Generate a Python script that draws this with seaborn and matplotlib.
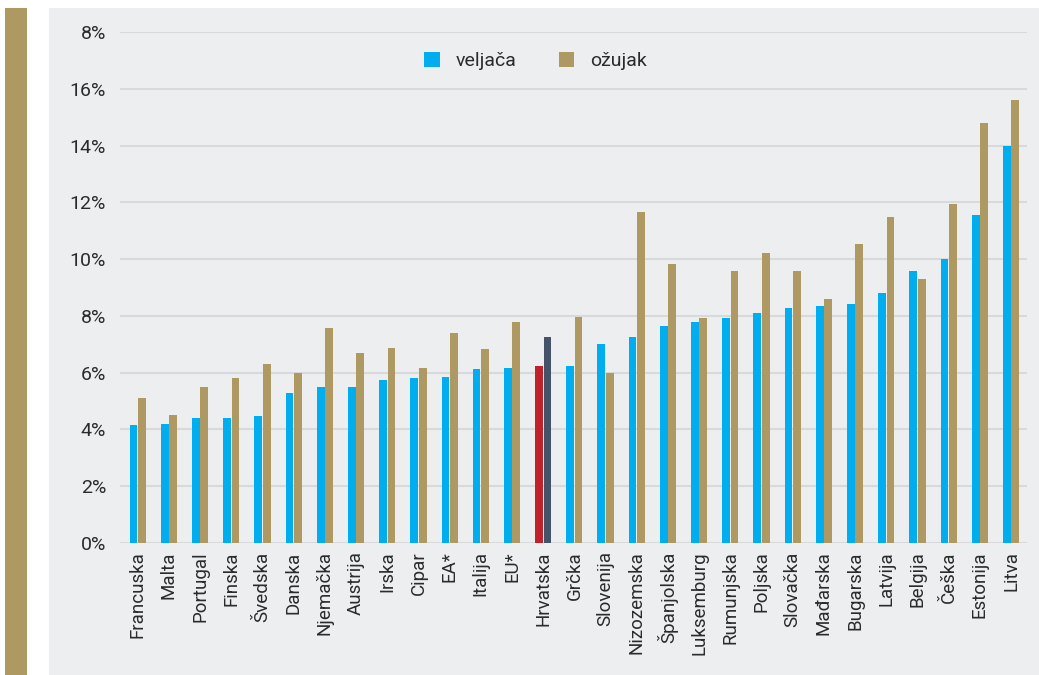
import matplotlib
matplotlib.use("Agg")
import matplotlib.pyplot as plt
from matplotlib.patches import Rectangle
import seaborn as sns
import pandas as pd

countries = ["Francuska", "Malta", "Portugal", "Finska", "Švedska", "Danska", "Njemačka",
             "Austrija", "Irska", "Cipar", "EA*", "Italija", "EU*", "Hrvatska", "Grčka",
             "Slovenija", "Nizozemska", "Španjolska", "Luksemburg", "Rumunjska", "Poljska",
             "Slovačka", "Mađarska", "Bugarska", "Latvija", "Belgija", "Češka", "Estonija", "Litva"]
veljaca = [4.14, 4.19, 4.39, 4.39, 4.46, 5.29, 5.49, 5.49, 5.73, 5.80, 5.86, 6.12, 6.18, 6.24,
           6.25, 7.01, 7.27, 7.65, 7.78, 7.92, 8.11, 8.29, 8.35, 8.42, 8.81, 9.57, 10.01, 11.55, 13.97]
ozujak = [5.10, 4.52, 5.49, 5.80, 6.31, 5.99, 7.58, 6.70, 6.88, 6.18, 7.40, 6.82, 7.79, 7.26,
          7.96, 5.99, 11.66, 9.83, 7.92, 9.57, 10.21, 9.57, 8.61, 10.53, 11.50, 9.31, 11.93, 14.80, 15.62]
series = ["veljača", "ožujak"]
ytick_vals = [0, 2, 4, 6, 8, 10, 12, 14, 16, 18]
ytick_labels = ["0%", "2%", "4%", "6%", "8%", "10%", "12%", "14%", "16%", "8%"]

BLUE = "#00aeef"
GOLD = "#ad9961"
RED = "#c1212a"
SLATE = "#44536a"
PANEL = "#edeef0"
TEXT = "#2b2b2b"

df = pd.DataFrame({
    "country": countries * 2,
    "value": veljaca + ozujak,
    "series": [series[0]] * len(countries) + [series[1]] * len(countries),
})

sns.set_theme(style="white")
plt.rcParams["font.family"] = ["Roboto", "DejaVu Sans"]

fig = plt.figure(figsize=(10.39, 6.75), dpi=100)
fig.patch.set_facecolor("white")
# decorative strip and background panel
fig.add_artist(Rectangle((5 / 1039, 0), 22 / 1039, 1 - 8 / 675, transform=fig.transFigure,
                         facecolor=GOLD, edgecolor="none", zorder=0))
fig.add_artist(Rectangle((49 / 1039, 0), 1 - 49 / 1039, 1 - 8 / 675, transform=fig.transFigure,
                         facecolor=PANEL, edgecolor="none", zorder=0))

ax = fig.add_axes([120 / 1039, 1 - 543 / 675, (1027 - 120) / 1039, (543 - 32) / 675])
ax.set_facecolor("none")

sns.barplot(data=df, x="country", y="value", hue="series", order=countries,
            hue_order=series, palette=[BLUE, GOLD], width=0.54, gap=0.08,
            saturation=1, edgecolor="none", ax=ax, legend=True)

hi = countries.index("Hrvatska")
ax.containers[0][hi].set_facecolor(RED)
ax.containers[1][hi].set_facecolor(SLATE)

ax.set_ylim(0, 18)
ax.set_xlim(-0.567, 28.51)
ax.set_yticks(ytick_vals)
ax.set_yticklabels(ytick_labels)
ax.yaxis.grid(True, color="#d8d9db", linewidth=1.5)
ax.set_axisbelow(True)
for s in ax.spines.values():
    s.set_visible(False)
ax.tick_params(axis="y", length=0, pad=10, labelsize=14, labelcolor=TEXT)
ax.tick_params(axis="x", length=0, pad=6, labelsize=13.5, labelcolor=TEXT, rotation=90)
ax.set_xlabel("")
ax.set_ylabel("")

handles, labels = ax.get_legend_handles_labels()
leg = ax.legend(handles, labels, loc="center", bbox_to_anchor=(0.458, 0.943),
                ncol=2, frameon=False, fontsize=14, handlelength=0.8, handleheight=0.8,
                columnspacing=2.2, handletextpad=0.8, labelcolor=TEXT)

fig.savefig("out.png", dpi=100, facecolor="white")
